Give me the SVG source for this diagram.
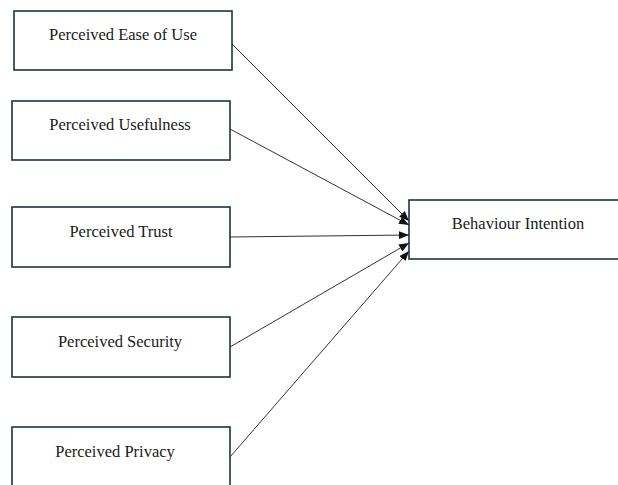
<svg xmlns="http://www.w3.org/2000/svg" width="618" height="485" viewBox="0 0 618 485">
<style>
.box{fill:#fff;stroke:#1c3344;stroke-width:1.6}
.lbl{font-family:"Liberation Serif","Times New Roman",serif;font-size:16.5px;fill:#1a1a1a;text-anchor:middle}
.con{stroke:#333;stroke-width:1;fill:none;marker-end:url(#ah)}
</style>
<defs>
<marker id="ah" viewBox="0 0 10 8" refX="10" refY="4" markerWidth="10" markerHeight="8" markerUnits="userSpaceOnUse" orient="auto">
<path d="M0,0 L10,4 L0,8 Z" fill="#111"/>
</marker>
</defs>
<rect width="618" height="485" fill="#fff"/>
<g id="connectors">
<line class="con" x1="232" y1="44" x2="409" y2="221"/>
<line class="con" x1="230" y1="129" x2="409" y2="225"/>
<line class="con" x1="230" y1="237" x2="409" y2="235"/>
<line class="con" x1="230" y1="347" x2="409" y2="243"/>
<line class="con" x1="230" y1="457" x2="409" y2="251"/>
</g>
<g id="n1"><rect class="box" x="14" y="11" width="218" height="59"/><text class="lbl" x="123" y="40">Perceived Ease of Use</text></g>
<g id="n2"><rect class="box" x="12" y="101" width="218" height="59"/><text class="lbl" x="120" y="130">Perceived Usefulness</text></g>
<g id="n3"><rect class="box" x="12" y="207" width="218" height="60"/><text class="lbl" x="121" y="237">Perceived Trust</text></g>
<g id="n4"><rect class="box" x="12" y="317" width="218" height="60"/><text class="lbl" x="120" y="347">Perceived Security</text></g>
<g id="n5"><rect class="box" x="12" y="427" width="218" height="70"/><text class="lbl" x="115" y="457">Perceived Privacy</text></g>
<g id="n6"><rect class="box" x="409" y="200" width="220" height="59"/><text class="lbl" x="518" y="229">Behaviour Intention</text></g>
</svg>
